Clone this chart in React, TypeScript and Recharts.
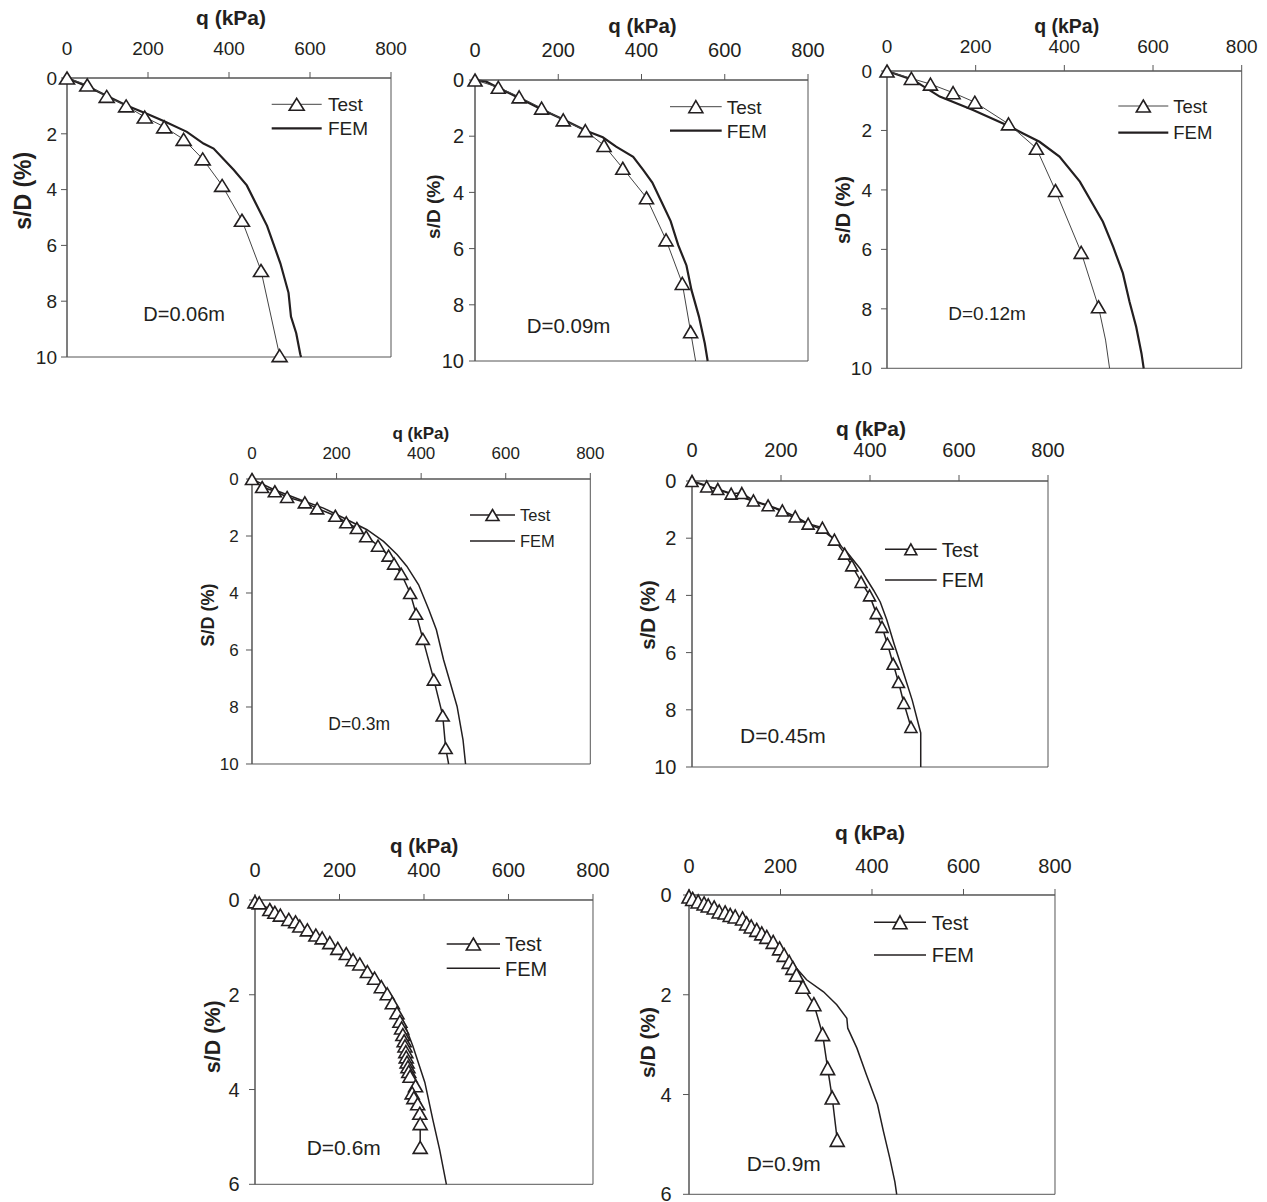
import React from 'react'
import { LineChart, Line, XAxis, YAxis, ReferenceArea } from 'recharts'

const FONT = '"Liberation Sans", Arial, sans-serif'
const INK = '#231f20'
const AXIS = '#555'

const Q_TICKS = [0, 200, 400, 600, 800]
const S_TICKS_10 = [0, 2, 4, 6, 8, 10]
const S_TICKS_6 = [0, 2, 4, 6]

type Pair = [number, number]

// test points [q (kPa), s/D (%)], tails are the line past the last marker
const TEST_006: Pair[] = [[0, 0], [50, 0.25], [98, 0.66], [146, 1.0], [192, 1.4], [240, 1.75], [288, 2.2], [335, 2.9], [383, 3.85], [432, 5.1], [479, 6.9], [525, 9.95]]
const FEM_006: Pair[] = [[0, 0], [50, 0.3], [100, 0.65], [150, 1.0], [200, 1.3], [240, 1.55], [296, 1.93], [337, 2.35], [362, 2.53], [412, 3.3], [444, 3.85], [494, 5.3], [527, 6.65], [547, 7.7], [553, 8.55], [566, 9.15], [576, 9.9], [578, 10]]

const TEST_009: Pair[] = [[0, 0], [56, 0.26], [106, 0.6], [160, 1.0], [212, 1.42], [265, 1.8], [310, 2.33], [355, 3.14], [412, 4.19], [459, 5.69], [498, 7.24], [518, 8.96]]
const TAIL_009: Pair[] = [[530, 10]]
const FEM_009: Pair[] = [[0, 0], [27, 0.06], [59, 0.3], [107, 0.65], [163, 1.07], [211, 1.4], [267, 1.81], [307, 2.04], [339, 2.37], [380, 2.73], [404, 3.2], [426, 3.65], [448, 4.33], [470, 5.02], [488, 5.87], [508, 6.6], [520, 7.47], [538, 8.42], [552, 9.37], [559, 10]]

const TEST_012: Pair[] = [[0, 0], [55, 0.25], [98, 0.44], [149, 0.73], [198, 1.05], [274, 1.78], [337, 2.6], [380, 4.02], [438, 6.1], [477, 7.93]]
const TAIL_012: Pair[] = [[493, 9.05], [502, 10]]
const FEM_012: Pair[] = [[0, 0], [59, 0.3], [119, 0.86], [194, 1.31], [277, 1.87], [307, 2.1], [344, 2.38], [389, 2.88], [435, 3.72], [465, 4.5], [487, 5.07], [510, 5.91], [532, 6.8], [547, 7.76], [562, 8.6], [574, 9.5], [579, 10]]

const TEST_03: Pair[] = [[0, 0], [24, 0.28], [54, 0.43], [83, 0.63], [125, 0.82], [154, 1.03], [197, 1.29], [223, 1.52], [248, 1.72], [270, 2.01], [298, 2.34], [323, 2.69], [336, 2.97], [353, 3.33], [374, 4.0], [388, 4.73], [404, 5.61], [430, 7.04], [451, 8.3], [458, 9.44]]
const TAIL_03: Pair[] = [[465, 10]]
const FEM_03: Pair[] = [[0, 0], [51, 0.37], [114, 0.73], [169, 1.02], [217, 1.37], [272, 1.78], [311, 2.19], [343, 2.65], [366, 3.06], [394, 3.71], [418, 4.58], [436, 5.29], [453, 6.34], [469, 7.16], [485, 7.98], [499, 9.15], [505, 10]]

const TEST_045: Pair[] = [[0, 0], [33, 0.19], [58, 0.28], [88, 0.44], [112, 0.42], [138, 0.68], [171, 0.85], [203, 1.03], [232, 1.24], [261, 1.49], [293, 1.63], [320, 2.05], [343, 2.54], [359, 2.95], [380, 3.53], [399, 4.0], [414, 4.62], [427, 5.1], [439, 5.69], [452, 6.39], [464, 7.03], [476, 7.76], [492, 8.6]]
const FEM_045: Pair[] = [[0, 0], [31, 0.15], [84, 0.44], [137, 0.7], [189, 0.97], [242, 1.38], [288, 1.67], [318, 2.02], [348, 2.48], [378, 3.07], [408, 3.82], [423, 4.23], [438, 4.87], [454, 5.69], [476, 6.74], [495, 7.67], [514, 8.81], [514, 10]]

const TEST_06: Pair[] = [[0, 0.04], [10, 0.06], [35, 0.2], [47, 0.26], [60, 0.32], [80, 0.41], [96, 0.46], [106, 0.55], [124, 0.63], [144, 0.74], [159, 0.8], [177, 0.9], [196, 1.02], [216, 1.13], [232, 1.26], [248, 1.35], [266, 1.51], [283, 1.65], [299, 1.83], [313, 1.98], [325, 2.17], [336, 2.38], [343, 2.56], [347, 2.7], [350, 2.84], [353, 2.97], [355, 3.08], [357, 3.2], [358, 3.31], [360, 3.42], [362, 3.52], [364, 3.62], [367, 3.72], [380, 3.92], [372, 4.07], [376, 4.17], [385, 4.3], [390, 4.5], [391, 4.72], [391, 5.22]]
const FEM_06: Pair[] = [[0, 0], [50, 0.35], [106, 0.63], [161, 0.91], [208, 1.16], [256, 1.44], [287, 1.62], [319, 1.97], [350, 2.53], [374, 3.09], [402, 3.85], [421, 4.64], [437, 5.27], [453, 6]]

const TEST_09: Pair[] = [[0, 0.03], [8, 0.08], [20, 0.13], [33, 0.17], [42, 0.21], [55, 0.25], [66, 0.33], [79, 0.35], [90, 0.4], [101, 0.43], [117, 0.47], [126, 0.57], [136, 0.63], [148, 0.7], [159, 0.77], [170, 0.84], [184, 0.94], [198, 1.07], [208, 1.2], [219, 1.34], [227, 1.46], [235, 1.6], [249, 1.84], [273, 2.19], [292, 2.79], [303, 3.47], [313, 4.06], [324, 4.91]]
const FEM_09: Pair[] = [[0, 0], [53, 0.23], [104, 0.47], [155, 0.77], [199, 1.07], [235, 1.47], [257, 1.7], [294, 1.94], [323, 2.2], [345, 2.47], [347, 2.67], [367, 3.07], [388, 3.61], [412, 4.2], [425, 4.74], [439, 5.28], [450, 5.75], [454, 6]]

const toPts = (marked: Pair[], tail: Pair[] = []) => [
  ...marked.map(([q, s]) => ({ q, s, m: true })),
  ...tail.map(([q, s]) => ({ q, s, m: false })),
]

interface Cfg {
  L: number; T: number; W: number; H: number; ymax: number
  test: Pair[]; tail?: Pair[]; fem: Pair[]
  tick: number; xGap: number; yGap: number
  title: [number, number, number]
  ylab: [number, number, number, string]
  leg: { x1: number; x2: number; yT: number; yF: number; tx: number; size: number }
  d: [number, number, number, string]
  thin: boolean; mw: number; mh: number
}

const PANELS: Cfg[] = [
  { L: 66.7, T: 77.7, W: 324, H: 279, ymax: 10, test: TEST_006, fem: FEM_006, tick: 19, xGap: 22.7, yGap: 10,
    title: [231, 24.5, 21], ylab: [30.5, 190.8, 23, 's/D (%)'],
    leg: { x1: 271.7, x2: 321.7, yT: 104.3, yF: 128.3, tx: 328, size: 19 }, d: [143.3, 321, 20, 'D=0.06m'], thin: true, mw: 15, mh: 12 },
  { L: 475.3, T: 80, W: 333, H: 281, ymax: 10, test: TEST_009, tail: TAIL_009, fem: FEM_009, tick: 20, xGap: 23.3, yGap: 11,
    title: [642.5, 33.3, 20.5], ylab: [439.5, 206.7, 19, 's/D (%)'],
    leg: { x1: 670, x2: 721.7, yT: 106.7, yF: 130.7, tx: 726.7, size: 19 }, d: [526.7, 333, 20.5, 'D=0.09m'], thin: true, mw: 14, mh: 12 },
  { L: 887.3, T: 71, W: 354.7, H: 297.3, ymax: 10, test: TEST_012, tail: TAIL_012, fem: FEM_012, tick: 19, xGap: 18.3, yGap: 15,
    title: [1066.7, 33.3, 19.5], ylab: [849.5, 210, 20, 's/D (%)'],
    leg: { x1: 1118.3, x2: 1168.3, yT: 106, yF: 132.7, tx: 1173.3, size: 18.5 }, d: [948.3, 320, 19, 'D=0.12m'], thin: true, mw: 14, mh: 12 },
  { L: 251.7, T: 479.3, W: 338.3, H: 285, ymax: 10, test: TEST_03, tail: TAIL_03, fem: FEM_03, tick: 17, xGap: 20, yGap: 13.4,
    title: [420.8, 439.2, 17], ylab: [214, 615, 18, 'S/D (%)'],
    leg: { x1: 470, x2: 515, yT: 515, yF: 541, tx: 520, size: 16.5 }, d: [328.3, 730, 17.5, 'D=0.3m'], thin: false, mw: 13, mh: 11 },
  { L: 692.3, T: 480.7, W: 356, H: 286, ymax: 10, test: TEST_045, fem: FEM_045, tick: 20, xGap: 24, yGap: 15.6,
    title: [871, 435.5, 21], ylab: [654.5, 615, 20.5, 's/D (%)'],
    leg: { x1: 885, x2: 936.7, yT: 549.3, yF: 580, tx: 941.7, size: 20 }, d: [740, 743, 21, 'D=0.45m'], thin: false, mw: 12, mh: 11 },
  { L: 255.3, T: 900, W: 338, H: 284.3, ymax: 6, test: TEST_06, fem: FEM_06, tick: 20, xGap: 23.3, yGap: 15.3,
    title: [424.2, 853.3, 20.5], ylab: [220, 1036.7, 21.5, 's/D (%)'],
    leg: { x1: 446.7, x2: 500, yT: 944, yF: 968.3, tx: 505, size: 20 }, d: [306.7, 1155, 21, 'D=0.6m'], thin: false, mw: 14, mh: 12 },
  { L: 689, T: 895, W: 366, H: 299.3, ymax: 6, test: TEST_09, fem: FEM_09, tick: 20, xGap: 21.7, yGap: 17.3,
    title: [870, 840.3, 21], ylab: [655, 1042.5, 21, 's/D (%)'],
    leg: { x1: 874, x2: 926, yT: 922.3, yF: 955, tx: 931.7, size: 20 }, d: [746.7, 1171, 21, 'D=0.9m'], thin: false, mw: 14, mh: 13 },
]

const triPath = (cx: number, cy: number, w: number, h: number) =>
  `M${cx},${cy - h / 2}L${cx + w / 2},${cy + h / 2}L${cx - w / 2},${cy + h / 2}Z`

function triDot(w: number, h: number) {
  return (props: any) => {
    const { cx, cy, index, payload } = props
    if (!payload || !payload.m || cx == null || cy == null) return <g key={`d${index}`} />
    return <path key={`d${index}`} d={triPath(cx, cy, w, h)} fill="#fff" stroke={INK} strokeWidth={1.6} />
  }
}

function Panel({ c }: { c: Cfg }) {
  const mL = 70, mT = 70, mR = 30, mB = 12
  const tickStyle = { fontSize: c.tick, fill: INK, fontFamily: FONT }
  return (
    <div style={{ position: 'absolute', left: c.L - mL, top: c.T - mT }}>
      <LineChart width={mL + c.W + mR} height={mT + c.H + mB} margin={{ top: 0, right: mR, bottom: mB, left: 0 }}>
        <XAxis type="number" dataKey="q" orientation="top" domain={[0, 800]} ticks={Q_TICKS} interval={0}
          height={mT} tickSize={6} tickMargin={c.xGap - 6} tick={tickStyle} stroke={AXIS} />
        <YAxis type="number" reversed domain={[0, c.ymax]} ticks={c.ymax === 10 ? S_TICKS_10 : S_TICKS_6} interval={0}
          width={mL} tickSize={6} tickMargin={c.yGap - 6} tick={tickStyle} stroke={AXIS} />
        <ReferenceArea x1={0} x2={800} y1={0} y2={c.ymax} fill="none" fillOpacity={0} stroke={AXIS} strokeWidth={1} />
        <Line data={toPts(c.fem)} dataKey="s" stroke={INK} strokeWidth={c.thin ? 2.2 : 1.5}
          dot={false} activeDot={false} isAnimationActive={false} />
        <Line data={toPts(c.test, c.tail)} dataKey="s" stroke={c.thin ? '#444' : INK} strokeWidth={c.thin ? 1 : 1.5}
          dot={triDot(c.mw, c.mh)} activeDot={false} isAnimationActive={false} />
      </LineChart>
    </div>
  )
}

function Labels({ c }: { c: Cfg }) {
  const lg = c.leg
  const mid = (lg.x1 + lg.x2) / 2
  return (
    <g fontFamily={FONT} fill={INK}>
      <text x={c.title[0]} y={c.title[1]} fontSize={c.title[2]} fontWeight="bold" textAnchor="middle">q (kPa)</text>
      <text transform={`translate(${c.ylab[0]},${c.ylab[1]}) rotate(-90)`} fontSize={c.ylab[2]} fontWeight="bold" textAnchor="middle">{c.ylab[3]}</text>
      <line x1={lg.x1} x2={lg.x2} y1={lg.yT} y2={lg.yT} stroke={c.thin ? '#444' : INK} strokeWidth={c.thin ? 1 : 1.5} />
      <path d={triPath(mid, lg.yT, c.mw, c.mh)} fill="#fff" stroke={INK} strokeWidth={1.6} />
      <text x={lg.tx} y={lg.yT + lg.size * 0.36} fontSize={lg.size}>Test</text>
      <line x1={lg.x1} x2={lg.x2} y1={lg.yF} y2={lg.yF} stroke={INK} strokeWidth={c.thin ? 2.2 : 1.5} />
      <text x={lg.tx} y={lg.yF + lg.size * 0.36} fontSize={lg.size}>FEM</text>
      <text x={c.d[0]} y={c.d[1]} fontSize={c.d[2]}>{c.d[3]}</text>
    </g>
  )
}

export default function App() {
  return (
    <div style={{ position: 'absolute', left: 0, top: 0, width: 1267, height: 1202, background: '#fff', overflow: 'hidden', fontFamily: FONT }}>
      {PANELS.map((c, i) => <Panel key={i} c={c} />)}
      <svg width={1267} height={1202} style={{ position: 'absolute', left: 0, top: 0, pointerEvents: 'none' }}>
        {PANELS.map((c, i) => <Labels key={i} c={c} />)}
      </svg>
    </div>
  )
}
